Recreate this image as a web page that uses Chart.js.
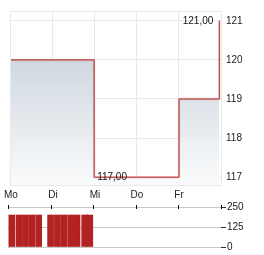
<!DOCTYPE html>
<html>
<head>
<meta charset="utf-8">
<script src="https://cdn.jsdelivr.net/npm/chart.js@4/dist/chart.umd.min.js"></script>
<style>
  html, body { margin: 0; padding: 0; background: #ffffff; }
  #wrap { position: relative; width: 264px; height: 255px; overflow: hidden; }
  #c1 { position: absolute; left: 0; top: 0; }
  #c2 { position: absolute; left: 0; top: 198px; }
</style>
</head>
<body>
<div id="wrap">
  <canvas id="c1" width="264" height="198"></canvas>
  <canvas id="c2" width="264" height="57"></canvas>
</div>
<script>
// ---- data ----
const dayLabels = ['Mo', 'Di', 'Mi', 'Do', 'Fr'];
// price: time in trading days since Monday open, stepped values
const priceTimes  = [0, 1.98, 4.0, 4.96];
const priceValues = [120, 117, 119, 121];
const priceTicks  = [117, 118, 119, 120, 121];
// volume: time in trading days, volume
const volTimes  = [0.09, 0.26, 0.41, 0.56, 0.72, 1.0, 1.16, 1.31, 1.47, 1.62, 1.8, 1.92];
const volValues = [200, 200, 200, 200, 200, 200, 200, 200, 200, 200, 200, 200];
const volTicks  = [0, 125, 250];

const FONT = 'Arial, "Liberation Sans", sans-serif';
const TXT = '#222222';

const pricePoints = priceTimes.map((t, i) => ({ x: t, y: priceValues[i] }));
const volPoints = volTimes.map((t, i) => ({ x: t, y: volValues[i] }));

const minIdx = priceValues.indexOf(Math.min(...priceValues));
const maxIdx = priceValues.indexOf(Math.max(...priceValues));
const fmt = v => v.toFixed(2).replace('.', ',');

const labelPlugin = {
  id: 'minmax',
  afterDatasetsDraw(chart) {
    const meta = chart.getDatasetMeta(1);
    const c = chart.ctx;
    c.save();
    c.font = '10px ' + FONT;
    c.fillStyle = '#111111';
    c.textBaseline = 'middle';
    const pMax = meta.data[maxIdx];
    c.textAlign = 'right';
    c.fillText(fmt(priceValues[maxIdx]), pMax.x - 6, pMax.y);
    const pMin = meta.data[minIdx];
    c.textAlign = 'left';
    c.fillText(fmt(priceValues[minIdx]), pMin.x + 3, pMin.y);
    c.restore();
  }
};

// top line and small day tick marks of the volume panel
const dayTickPlugin = {
  id: 'dayTicks',
  afterDraw(chart) {
    const xs = chart.scales.x;
    const ys = chart.scales.y;
    const top = Math.round(ys.getPixelForValue(volTicks[volTicks.length - 1])) + 0.5;
    const c = chart.ctx;
    c.save();
    c.lineWidth = 1;
    c.strokeStyle = '#c8c8c8';
    c.beginPath();
    c.moveTo(chart.chartArea.left, top);
    c.lineTo(chart.chartArea.right, top);
    c.stroke();
    c.strokeStyle = '#111111';
    for (let i = 0; i <= dayLabels.length; i++) {
      const px = Math.round(xs.getPixelForValue(i)) + 0.5;
      c.beginPath();
      c.moveTo(px, top - 2.5);
      c.lineTo(px, top + 1.5);
      c.stroke();
    }
    c.restore();
  }
};

function fillGradient(ctx) {
  const chart = ctx.chart;
  const area = chart.chartArea;
  if (!area) return 'rgba(0,0,0,0)';
  const g = chart.ctx.createLinearGradient(0, area.top, 0, area.bottom);
  g.addColorStop(0, 'rgb(190,202,213)');
  g.addColorStop(1, 'rgb(250,251,252)');
  return g;
}

new Chart(document.getElementById('c1'), {
  type: 'line',
  data: {
    datasets: [
      {
        data: pricePoints,
        stepped: true,
        borderColor: 'rgba(205,90,90,0.22)',
        borderWidth: 2.5,
        pointRadius: 0,
        fill: 'start',
        backgroundColor: fillGradient,
        order: 2
      },
      {
        data: pricePoints,
        stepped: true,
        borderColor: '#b22a2a',
        borderWidth: 1,
        pointRadius: 0,
        fill: false,
        order: 1
      }
    ]
  },
  options: {
    responsive: false,
    animation: false,
    devicePixelRatio: 1,
    layout: { padding: { left: 8, top: 7, right: 0, bottom: 0 } },
    plugins: { legend: { display: false }, tooltip: { enabled: false } },
    scales: {
      x: {
        type: 'linear',
        min: 0,
        max: dayLabels.length,
        afterBuildTicks: s => { s.ticks = dayLabels.map((d, i) => ({ value: i })).concat([{ value: dayLabels.length }]); },
        afterFit: s => { s.height = 13; },
        grid: { color: '#e9e9e9', drawTicks: false },
        border: { display: true, color: '#e9e9e9' },
        ticks: {
          padding: 4,
          color: TXT,
          font: { family: FONT, size: 10 },
          maxRotation: 0,
          autoSkip: false,
          callback: v => dayLabels[v] !== undefined ? dayLabels[v] : ''
        }
      },
      y: {
        position: 'right',
        min: 116.8,
        max: 121.25,
        afterBuildTicks: s => { s.ticks = priceTicks.map(v => ({ value: v })).concat([{ value: 121.25 }]); },
        afterFit: s => { s.width = 43; },
        grid: { color: '#e9e9e9', drawTicks: false },
        border: { display: true, color: '#e9e9e9' },
        ticks: {
          padding: 5,
          color: TXT,
          font: { family: FONT, size: 10 },
          callback: v => priceTicks.includes(v) ? String(v) : ''
        }
      }
    }
  },
  plugins: [labelPlugin]
});

new Chart(document.getElementById('c2'), {
  type: 'bar',
  data: {
    datasets: [{
      data: volPoints,
      backgroundColor: '#b22222',
      borderWidth: 0,
      barThickness: 6
    }]
  },
  options: {
    responsive: false,
    animation: false,
    devicePixelRatio: 1,
    layout: { padding: { left: 8, top: 9, right: 0, bottom: 8 } },
    plugins: { legend: { display: false }, tooltip: { enabled: false } },
    scales: {
      x: {
        type: 'linear',
        offset: false,
        display: false,
        min: 0,
        max: dayLabels.length
      },
      y: {
        position: 'right',
        min: 0,
        max: 250,
        afterBuildTicks: s => { s.ticks = volTicks.map(v => ({ value: v })); },
        afterFit: s => { s.width = 43; },
        grid: { color: '#c8c8c8', tickColor: '#333', tickLength: 5 },
        border: { display: false },
        ticks: {
          padding: 1,
          color: TXT,
          font: { family: FONT, size: 10 }
        }
      }
    }
  },
  plugins: [dayTickPlugin]
});
</script>
</body>
</html>
